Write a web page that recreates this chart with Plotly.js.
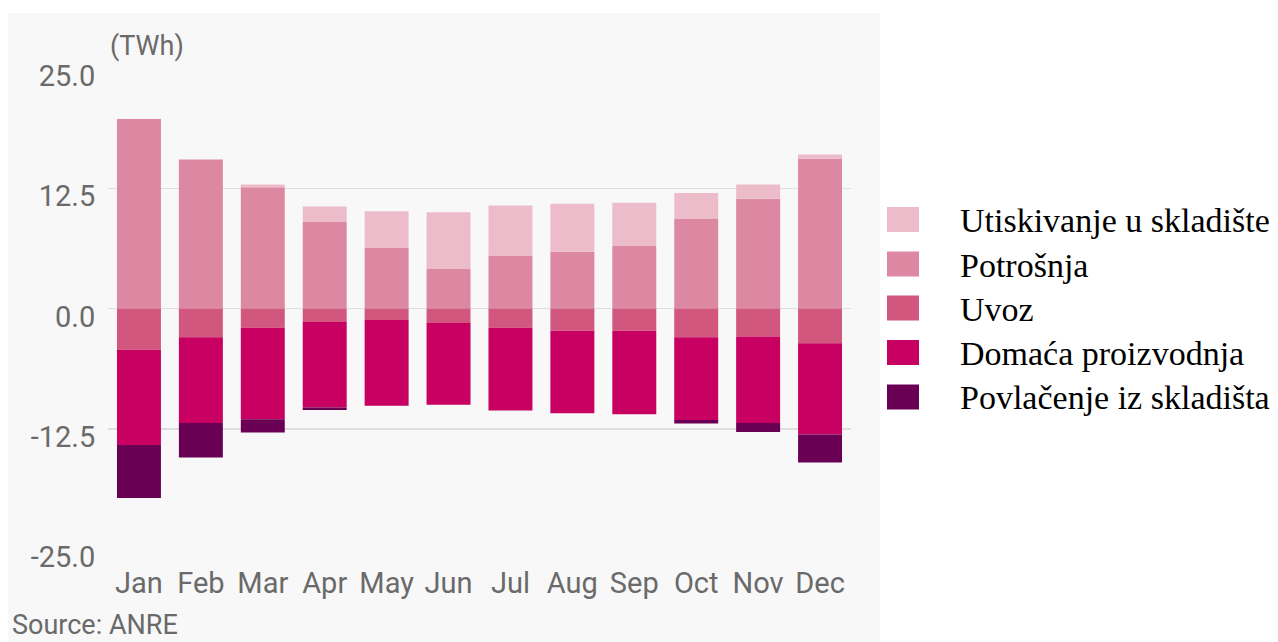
<!DOCTYPE html>
<html>
<head>
<meta charset="utf-8">
<script src="https://cdn.plot.ly/plotly-3.0.1.min.js"></script>
<style>
html,body{margin:0;padding:0;background:#ffffff;}
#chart{width:1278px;height:642px;}
</style>
</head>
<body>
<div id="chart"></div>
<script>
// ---- data (TWh) ----
const months = ["Jan","Feb","Mar","Apr","May","Jun","Jul","Aug","Sep","Oct","Nov","Dec"];
const potrosnja   = [19.7, 15.5, 12.6, 9.0, 6.3, 4.1, 5.5, 5.9, 6.5, 9.3, 11.4, 15.6];
const utiskivanje = [0.0, 0.0, 0.3, 1.6, 3.8, 5.9, 5.2, 5.0, 4.5, 2.7, 1.5, 0.4];
const uvoz        = [-4.3, -3.0, -2.0, -1.4, -1.2, -1.5, -2.0, -2.3, -2.3, -3.0, -2.9, -3.6];
const domaca      = [-9.9, -8.9, -9.5, -8.9, -8.9, -8.5, -8.6, -8.6, -8.7, -8.6, -9.0, -9.5];
const povlacenje  = [-5.5, -3.6, -1.4, -0.25, 0.0, 0.0, 0.0, 0.0, 0.0, -0.35, -0.95, -2.9];
const yTicks = [-25, -12.5, 0, 12.5, 25];

const names  = ["Utiskivanje u skladište","Potrošnja","Uvoz","Domaća proizvodnja","Povlačenje iz skladišta"];
const colors = ["#edbccb","#dd88a3","#d1577f","#c70061","#6a0054"];

// stacking order: positive (bottom->top), negative (near zero -> away)
const series = [
  {name: names[1], y: potrosnja,   color: colors[1]},
  {name: names[0], y: utiskivanje, color: colors[0]},
  {name: names[2], y: uvoz,        color: colors[2]},
  {name: names[3], y: domaca,      color: colors[3]},
  {name: names[4], y: povlacenje,  color: colors[4]}
];

const traces = series.map(s => ({
  type: 'bar', x: months, y: s.y, name: s.name,
  marker: {color: s.color, line: {width: 0}},
  showlegend: false, hoverinfo: 'x+y+name'
}));

// plot area in pixels
const L = 108, R = 851, T = 68, B = 549;
const W = 1278, H = 642;
const px = x => (x - L) / (R - L);
const py = y => (B - y) / (B - T);

const shapes = [
  {type:'rect', xref:'paper', yref:'paper', x0:px(8), x1:px(880), y0:py(660), y1:py(13),
   fillcolor:'#f8f8f8', line:{width:0}, layer:'below'}
];
const annotations = [
  {xref:'paper', yref:'paper', x:px(108), y:py(46), xanchor:'left', yanchor:'middle',
   text:'(TWh)', showarrow:false, font:{family:'Roboto, sans-serif', size:27, color:'#6a6a6a'}},
  {xref:'paper', yref:'paper', x:px(10), y:py(625), xanchor:'left', yanchor:'middle',
   text:'Source: ANRE', showarrow:false, font:{family:'Roboto, sans-serif', size:27, color:'#6a6a6a'}}
];
// legend (order top -> bottom)
const legY = [219.5, 264, 308, 352.5, 397];
names.forEach((n, i) => {
  shapes.push({type:'rect', xref:'paper', yref:'paper', x0:px(887), x1:px(919),
    y0:py(legY[i]+12.5), y1:py(legY[i]-12.5), fillcolor:colors[i], line:{width:0}});
  annotations.push({xref:'paper', yref:'paper', x:px(958), y:py(legY[i]+1), xanchor:'left', yanchor:'middle',
    text:n, showarrow:false, font:{family:'Liberation Serif, Times New Roman, serif', size:34, color:'#000000'}});
});

const layout = {
  width: W, height: H,
  margin: {l: L, r: W - R, t: T, b: H - B, pad: 0},
  paper_bgcolor: '#ffffff',
  plot_bgcolor: '#f8f8f8',
  barmode: 'relative',
  bargap: 0.29,
  showlegend: false,
  font: {family: 'Roboto, sans-serif', color: '#6a6a6a'},
  xaxis: {
    type: 'category', showgrid: false, zeroline: false, showline: false,
    ticks: 'outside', ticklen: 8, tickcolor: 'rgba(0,0,0,0)',
    tickfont: {family: 'Roboto, sans-serif', size: 29, color: '#6a6a6a'}
  },
  yaxis: {
    range: [-25, 25], tickvals: yTicks, ticktext: yTicks.map(v => v.toFixed(1)),
    showgrid: true, gridcolor: '#dedede', gridwidth: 1.5,
    zeroline: true, zerolinecolor: '#dedede', zerolinewidth: 1.5,
    showline: false, ticks: 'outside', ticklen: 6, tickcolor: 'rgba(0,0,0,0)',
    ticklabelshift: 8,
    tickfont: {family: 'Roboto, sans-serif', size: 29, color: '#6a6a6a'}
  },
  shapes: shapes,
  annotations: annotations
};

Plotly.newPlot('chart', traces, layout, {displayModeBar: false, staticPlot: true});
</script>
</body>
</html>
